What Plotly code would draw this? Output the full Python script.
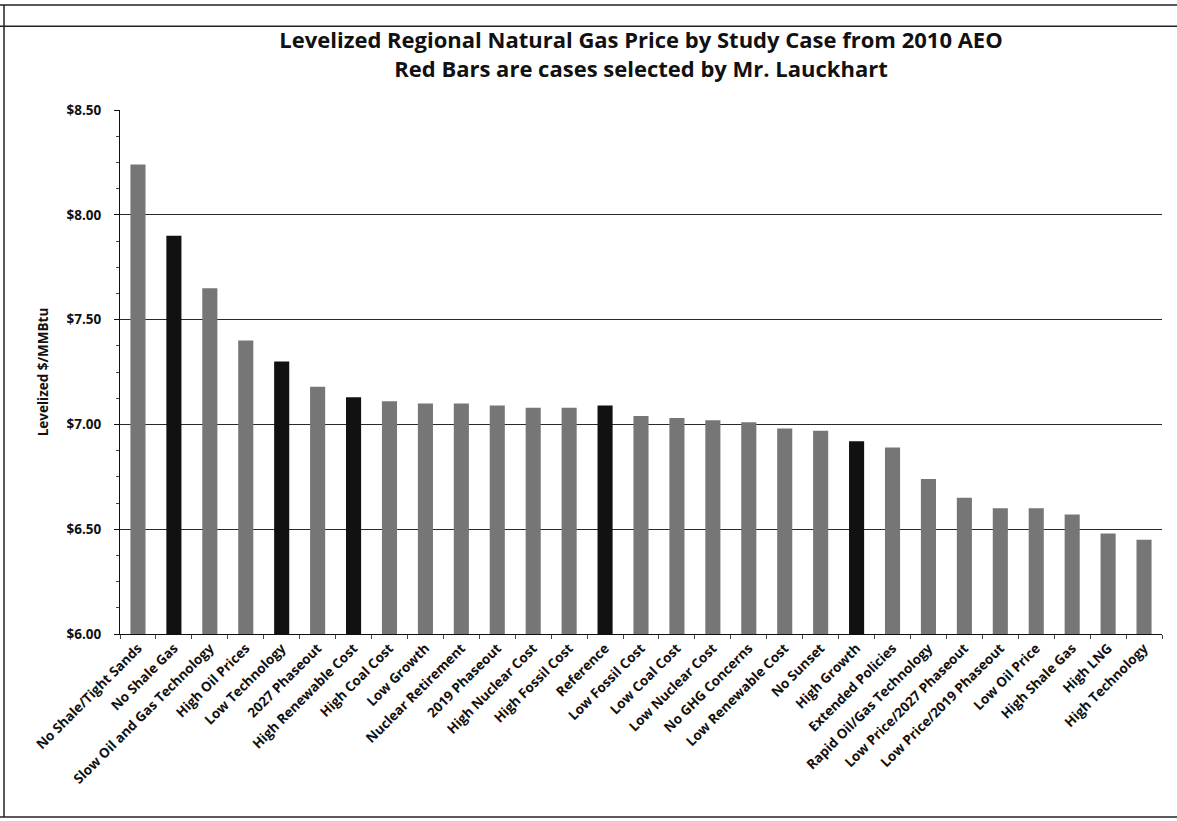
import plotly.graph_objects as go

cases = [
    "No Shale/Tight Sands", "No Shale Gas", "Slow Oil and Gas Technology", "High Oil Prices",
    "Low Technology", "2027 Phaseout", "High Renewable Cost", "High Coal Cost", "Low Growth",
    "Nuclear Retirement", "2019 Phaseout", "High Nuclear Cost", "High Fossil Cost", "Reference",
    "Low Fossil Cost", "Low Coal Cost", "Low Nuclear Cost", "No GHG Concerns", "Low Renewable Cost",
    "No Sunset", "High Growth", "Extended Policies", "Rapid Oil/Gas Technology",
    "Low Price/2027 Phaseout", "Low Price/2019 Phaseout", "Low Oil Price", "High Shale Gas",
    "High LNG", "High Technology",
]
prices = [
    8.24, 7.90, 7.65, 7.40, 7.30, 7.18, 7.13, 7.11, 7.10, 7.10, 7.09, 7.08, 7.08, 7.09,
    7.04, 7.03, 7.02, 7.01, 6.98, 6.97, 6.92, 6.89, 6.74, 6.65, 6.60, 6.60, 6.57, 6.48, 6.45,
]
selected = ["No Shale Gas", "Low Technology", "High Renewable Cost", "Reference", "High Growth"]

colors = ["#111111" if c in selected else "#767676" for c in cases]

fig = go.Figure(go.Bar(x=cases, y=prices, marker=dict(color=colors, line=dict(width=0)), width=0.42))

font_family = "'Open Sans', Lato, sans-serif"
fig.update_layout(
    width=1177, height=821,
    margin=dict(l=120, r=15, t=110, b=187),
    paper_bgcolor="white", plot_bgcolor="white",
    font=dict(family=font_family, color="#111111"),
    title=dict(
        text="<b>Levelized Regional Natural Gas Price by Study Case from 2010 AEO<br>Red Bars are cases selected by Mr. Lauckhart</b>",
        x=0.5, xref="paper", xanchor="center", y=0.941, yref="container", yanchor="top",
        font=dict(size=22, family=font_family, color="#111111"),
    ),
    showlegend=False,
)
fig.update_yaxes(
    range=[6.0, 8.5], dtick=0.5, tickformat="$.2f",
    showgrid=True, gridcolor="#2a2a2a", gridwidth=1.2,
    showline=True, linecolor="#111111", linewidth=1.2,
    ticks="outside", ticklen=5, tickcolor="#111111",
    ticklabelstandoff=10,
    minor=dict(dtick=0.125, ticks="outside", ticklen=3, tickcolor="#444444"),
    tickfont=dict(size=13.5, family=font_family, color="#111111", weight="bold"),
    title=dict(text="<b>Levelized $/MMBtu</b>", font=dict(size=13.5, family=font_family), standoff=14),
    zeroline=False,
)
fig.update_xaxes(
    tickangle=-45, tickfont=dict(size=13.5, family=font_family, color="#111111", weight="bold"),
    showline=True, linecolor="#111111", linewidth=1.2,
    ticks="outside", ticklen=4, tickcolor="#444444", tickson="boundaries",
    showgrid=False,
)

# scanned page frame lines
frame = dict(type="line", xref="paper", yref="paper", line=dict(color="#222222", width=1.5))
fig.add_shape(**frame, x0=-0.1152, x1=1.0144, y0=1.2004, y1=1.2004)
fig.add_shape(**frame, x0=-0.1152, x1=1.0144, y0=1.160, y1=1.160)
fig.add_shape(**frame, x0=-0.1113, x1=-0.1113, y0=-0.349, y1=1.2004)
fig.add_shape(**frame, x0=-0.1152, x1=1.0144, y0=-0.349, y1=-0.349)

fig.write_html("out.html")
